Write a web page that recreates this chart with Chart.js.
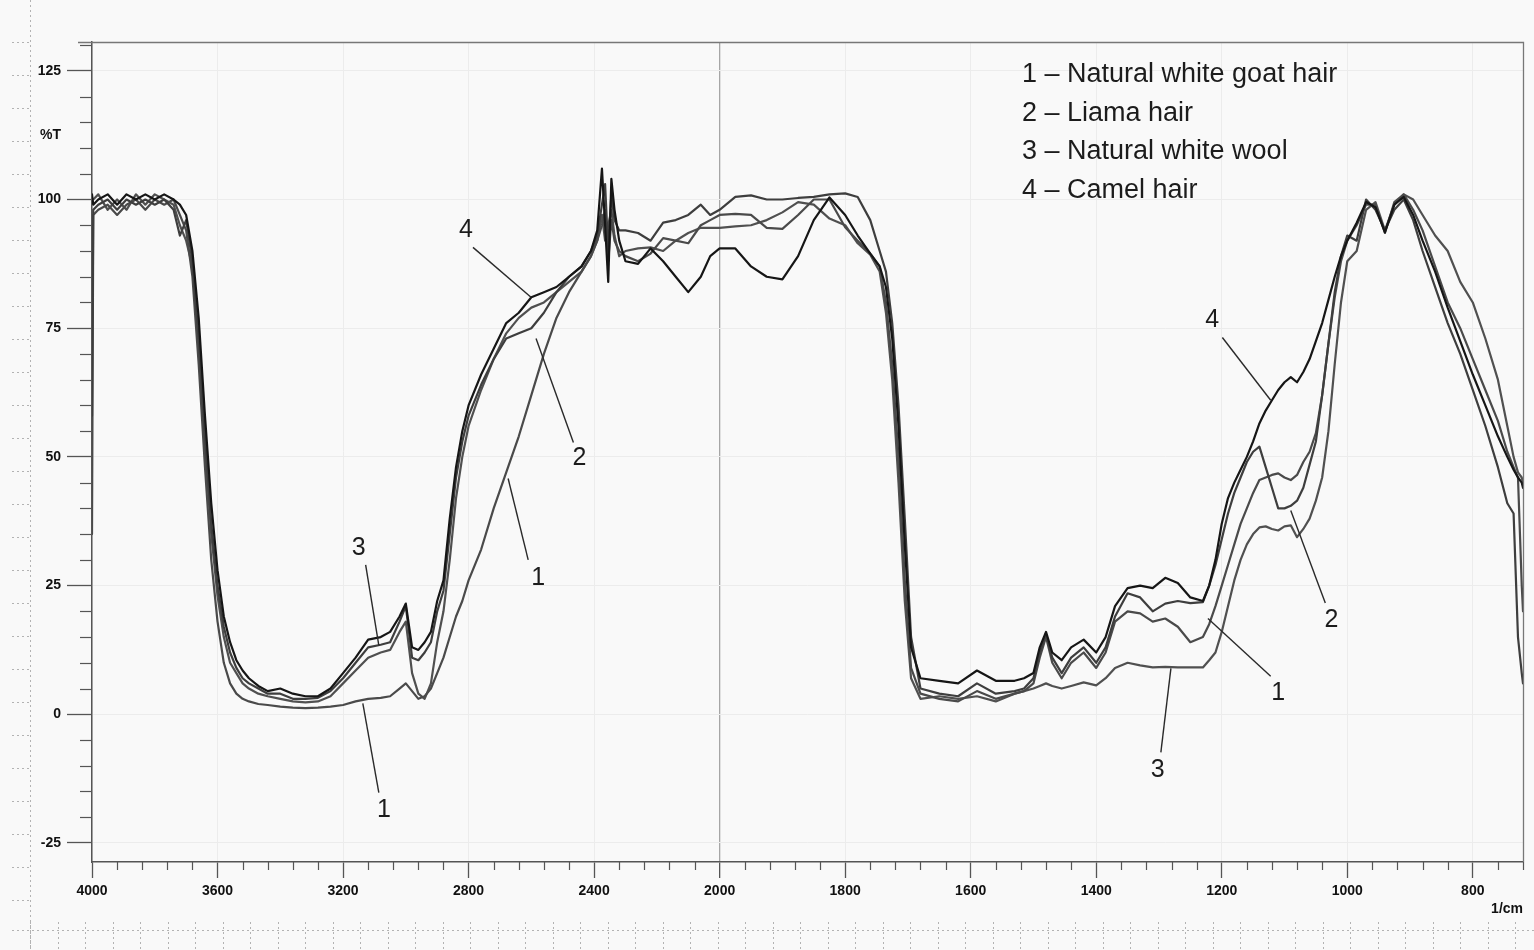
<!DOCTYPE html>
<html>
<head>
<meta charset="utf-8">
<script src="https://cdn.jsdelivr.net/npm/chart.js@4.4.1/dist/chart.umd.min.js"></script>
<style>
html,body{margin:0;padding:0;background:#f9f9f9;}
#wrap{width:1534px;height:950px;position:relative;}
</style>
</head>
<body>
<div id="wrap"><canvas id="c"></canvas></div>
<script>
// ---------------- DATA ----------------
const wavenumbers = [
  4000,3996,3980,3950,3920,3890,3860,3830,3800,3770,
  3740,3720,3700,3680,3660,3640,3620,3600,3580,3560,
  3540,3520,3500,3470,3440,3400,3360,3320,3280,3240,
  3200,3160,3120,3080,3050,3020,3000,2980,2960,2940,
  2920,2900,2880,2860,2840,2820,2800,2760,2720,2680,
  2640,2600,2560,2520,2480,2440,2410,2390,2375,2365,
  2355,2345,2335,2320,2300,2260,2220,2180,2140,2100,
  2060,2030,2000,
  1975,1950,1925,1900,1875,1850,1825,1800,1780,1760,
  1745,1735,1725,1715,1705,1695,1680,1650,1620,1590,
  1560,1530,1515,1500,1490,1480,1470,1455,1440,1420,
  1400,1385,1370,1350,1330,1310,1290,1270,1250,1230,
  1220,1210,1200,1190,1180,1170,1160,1150,1140,1130,
  1120,1110,1100,1090,1080,1070,1060,1050,1040,1030,
  1020,1010,1000,985,970,955,940,925,910,895,
  880,860,840,820,800,780,760,745,735,728,
  722,720
];

const goatHair = [
  35,97,98,99,97,99,100,98,100,99,
  100,97,94,85,68,48,30,18,10,6,
  4,3,2.5,2,1.8,1.5,1.3,1.2,1.3,1.5,
  1.8,2.5,3,3.2,3.5,5,6,4.5,3,3.5,
  5,8,11,15,19,22,26,32,40,47,
  54,62,70,77,82,86,89,92,95,98,
  88,96,92,90,89,88,89.5,92.5,92,91.5,
  95,96,97,
  97.2,97,94.5,94.3,97,100,100,94.6,92,89.5,
  87,80,68,50,26,9,4,3,2.5,4.5,
  3,4,4.5,6,11,15,10,7,10,12,
  9,12,18,20,19.6,18,18.6,17,14,15,
  17.5,21,25,29,33,37,40,43,45.5,46,
  46.5,46.8,46,45.5,46.5,49,51,54.6,62,72,
  81,88,92,95,99,99,93.5,99.5,101,98,
  94,87,80,75,69,63,57,51,48,46,
  25,20
];

const llamaHair = [
  58,98,99,100,98,100,99,100,99,100,
  98,93,96,88,73,54,37,25,17,12,
  9,7,6,5,4,4,3,3,3.2,4.5,
  7,10,13,13.5,14,18,21,11,10.5,12,
  14,20,24,35,46,53,58,64,69,73,
  74,75,78,82,85,87,90,93,99,103,
  90,101,96,94,94,93.5,92,95.5,96,97,
  99,97,98,
  100.5,100.8,100,100,100.3,100.5,101,101.2,100.5,96,
  90,86,76,60,38,15,5,4,3.5,6,
  4,4.5,5,7,12,15.5,11,8,11,13,
  10,13,19,23.5,22.7,20,21.5,22,21.6,21.8,
  25,29,34,39,43,46,49,51,52,48,
  44,40,40,40.5,41.5,44,48.5,53,62,72,
  82,89,93,92,100,98,94,98,100,96,
  90,83,76,70,63,56,48,41,39,15,
  8,6
];

const whiteWool = [
  100,100,101,98,100,98,101,99,101,100,
  99,95,92,87,71,52,35,23,15,10,
  8,6,5,4,3.5,3,2.5,2.3,2.5,3.5,
  6,8.5,11,12,12.5,16,18,8,4,3,
  6,14,20,30,42,50,56,63,69,74,
  77,79,80,82,84,86,89,92,97,92,
  95,98,93,89,90,90.5,90.7,90,92,93.5,
  94.5,94.5,94.5,
  94.8,95,96,97.5,99.5,99,96.3,95,91.5,89.3,
  86,78,65,45,22,7,3,3.5,3,3.5,
  2.5,4,4.5,5,5.5,6,5.5,5,5.5,6.2,
  5.6,7,9,10,9.5,9.1,9.2,9.1,9.1,9.1,
  10.5,12,16,21,26,30,33,35,36.3,36.5,
  36,35.7,36.5,36.7,34.4,36,38,41.5,46,55,
  68,80,88,90,98,99.5,94,99,101,100,
  97,93,90,84,80,73,65,56,50,47,
  46,45
];

const camelHair = [
  101,99,100,101,99,101,100,101,100,101,
  100,99,97,90,77,58,41,28,19,14,
  10.5,8.5,7,5.5,4.5,5,4,3.5,3.5,5,
  8,11,14.5,15,16,19,21.5,13,12.5,14,
  16,22,26,38,48,55,60,66,71,76,
  78,81,82,83,85,87,90,94,106,95,
  84,104,98,92,88,87.5,90.5,88,85,82,
  85,89,90.5,
  90.5,87,85,84.5,89,96,100.4,97,93,89.5,
  87,83,73,56,33,13,7,6.5,6,8.5,
  6.5,6.5,7,8,13,16,12,10.5,13,14.5,
  12,15,21,24.5,25,24.5,26.5,25.5,22.7,22,
  25,30,37,42,45,47.5,50,53,56.5,59,
  61,63,64.5,65.5,64.5,66.5,69,72.5,76,80.5,
  85,89,92,95.5,99.5,98.5,93.6,99,100.5,97,
  92,86,79,72.5,66,60,54,50,47.5,46,
  45,44
];

const seriesNames = [
  '1 \u2013 Natural white goat hair',
  '2 \u2013 Liama hair',
  '3 \u2013 Natural white wool',
  '4 \u2013 Camel hair'
];

const xTickLabels = [4000,3600,3200,2800,2400,2000,1800,1600,1400,1200,1000,800];
const yTickLabels = [-25,0,25,50,75,100,125];
const yUnitLabel = '%T';
const xUnitLabel = '1/cm';

// curve number tags: label position and pointer line, in (wavenumber, %T)
const tagText  = ['4','2','3','1','1','4','2','1','3'];
const tagAt    = [[2808,94],[2447,49.7],[3150,32.2],[2578,26.4],[3070,-18.6],[1215,76.5],[1025,18.3],[1110,4.1],[1302,-10.9]];
const tagFrom  = [[2786,90.7],[2466,52.8],[3128,29],[2610,30],[3086,-15.2],[1199,73.2],[1035,21.6],[1122,7.4],[1297,-7.4]];
const tagTo    = [[2601,81],[2585,73],[3086,13.4],[2674,45.8],[3137,2.1],[1122,61],[1090,39.6],[1222,18.6],[1281,8.9]];

// ---------------- SCALE TRANSFORM (split abscissa: x2 expansion below 2000) ----------------
function toT(w){ return w >= 2000 ? 4000 - w : 2000 + (2000 - w) * 2; }
function fromT(t){ return t <= 2000 ? 4000 - t : 2000 - (t - 2000) / 2; }

function pts(vals){ return wavenumbers.map((w,i)=>({x: toT(w), y: vals[i]})); }

const FONT = "'Liberation Sans', Arial, sans-serif";

const decor = {
  id: 'decor',
  beforeDraw(chart){
    const ctx = chart.ctx;
    ctx.save();
    ctx.fillStyle = '#f9f9f9';
    ctx.fillRect(0,0,chart.width,chart.height);
    // scanned paper grid remnants
    ctx.strokeStyle = '#b3b3b3';
    ctx.lineWidth = 1;
    ctx.setLineDash([2,3]);
    ctx.beginPath(); ctx.moveTo(30.5,0); ctx.lineTo(30.5,950); ctx.stroke();
    ctx.beginPath(); ctx.moveTo(12,930.5); ctx.lineTo(1534,930.5); ctx.stroke();
    for (let y = 42; y < 930; y += 33) {
      ctx.beginPath(); ctx.moveTo(12,y+0.5); ctx.lineTo(29,y+0.5); ctx.stroke();
    }
    for (let x = 30; x < 1534; x += 27.5) {
      ctx.beginPath(); ctx.moveTo(Math.round(x)+0.5,922); ctx.lineTo(Math.round(x)+0.5,950); ctx.stroke();
    }
    ctx.restore();
  },
  afterDraw(chart){
    const ctx = chart.ctx;
    const a = chart.chartArea;
    const xs = chart.scales.x, ys = chart.scales.y;
    ctx.save();
    // frame top & right
    ctx.strokeStyle = '#777';
    ctx.lineWidth = 1.3;
    ctx.beginPath();
    ctx.moveTo(78, a.top+0.5); ctx.lineTo(a.right+0.5, a.top+0.5); ctx.lineTo(a.right+0.5, a.bottom);
    ctx.stroke();
    // minor ticks
    ctx.strokeStyle = '#555';
    ctx.lineWidth = 1.2;
    for (let v = -25; v <= 130; v += 5) {
      if (v % 25 === 0) continue;
      const y = Math.round(ys.getPixelForValue(v)) + 0.5;
      ctx.beginPath(); ctx.moveTo(a.left-12, y); ctx.lineTo(a.left, y); ctx.stroke();
    }
    for (let t = 0; t <= xs.max + 1; t += 80) {
      if (t % 400 === 0) continue;
      const x = Math.round(xs.getPixelForValue(t)) + 0.5;
      ctx.beginPath(); ctx.moveTo(x, a.bottom); ctx.lineTo(x, a.bottom+8); ctx.stroke();
    }
    // unit label on x axis
    ctx.fillStyle = '#111';
    ctx.font = 'bold 14px ' + FONT;
    ctx.textAlign = 'right';
    ctx.textBaseline = 'middle';
    ctx.fillText(xUnitLabel, a.right, 909);
    // curve tags
    ctx.strokeStyle = '#2a2a2a';
    ctx.lineWidth = 1.4;
    ctx.fillStyle = '#1c1c1c';
    ctx.font = '25px ' + FONT;
    ctx.textAlign = 'center';
    ctx.textBaseline = 'middle';
    for (let i = 0; i < tagText.length; i++) {
      const fx = xs.getPixelForValue(toT(tagFrom[i][0])), fy = ys.getPixelForValue(tagFrom[i][1]);
      const tx = xs.getPixelForValue(toT(tagTo[i][0])), ty = ys.getPixelForValue(tagTo[i][1]);
      ctx.beginPath(); ctx.moveTo(fx, fy); ctx.lineTo(tx, ty); ctx.stroke();
      ctx.fillText(tagText[i], xs.getPixelForValue(toT(tagAt[i][0])), ys.getPixelForValue(tagAt[i][1]));
    }
    // legend text block
    ctx.font = '27px ' + FONT;
    ctx.textAlign = 'left';
    ctx.textBaseline = 'alphabetic';
    ctx.fillStyle = '#1c1c1c';
    const base = [82, 120.5, 159, 197.5];
    seriesNames.forEach((s,i)=> ctx.fillText(s, 1022, base[i]));
    ctx.restore();
  }
};

const lineCols = ['#4a4a4a', '#3e3e3e', '#505050', '#161616'];

new Chart(document.getElementById('c'), {
  type: 'line',
  data: {
    datasets: [
      { label: seriesNames[0], data: pts(goatHair),  borderColor: lineCols[0], order: 3 },
      { label: seriesNames[1], data: pts(llamaHair), borderColor: lineCols[1], order: 2 },
      { label: seriesNames[2], data: pts(whiteWool), borderColor: lineCols[2], order: 4 },
      { label: seriesNames[3], data: pts(camelHair), borderColor: lineCols[3], order: 1 }
    ]
  },
  options: {
    responsive: true,
    maintainAspectRatio: false,
    animation: false,
    parsing: true,
    layout: { padding: { top: 42, right: 11, left: 0, bottom: 0 } },
    elements: {
      line: { borderWidth: 2.2, tension: 0, fill: false, borderJoinStyle: 'round', borderCapStyle: 'round' },
      point: { radius: 0, hoverRadius: 0 }
    },
    plugins: { legend: { display: false }, tooltip: { enabled: false } },
    scales: {
      x: {
        type: 'linear',
        min: 0,
        max: toT(720),
        afterBuildTicks: s => { s.ticks = xTickLabels.map(w => ({ value: toT(w) })); },
        afterFit: s => { s.height = 88; },
        ticks: {
          autoSkip: false, maxRotation: 0, padding: 5,
          color: '#111', font: { family: FONT, size: 14, weight: 'bold' },
          callback: v => String(Math.round(fromT(v)))
        },
        grid: {
          color: c => (c.tick && Math.abs(c.tick.value - 2000) < 1) ? '#a6a6a6' : '#ececec',
          lineWidth: c => (c.tick && Math.abs(c.tick.value - 2000) < 1) ? 1.3 : 1,
          tickLength: 16, tickColor: '#555', tickWidth: 1.3
        },
        border: { color: '#555', width: 1.5 }
      },
      y: {
        type: 'linear',
        min: -28.7,
        max: 130.6,
        afterBuildTicks: s => { s.ticks = yTickLabels.concat([112.5]).sort((a,b)=>a-b).map(v => ({ value: v })); },
        afterFit: s => { s.width = 92; },
        ticks: {
          autoSkip: false, padding: 6,
          color: '#111', font: { family: FONT, size: 14, weight: 'bold' },
          callback: v => v === 112.5 ? yUnitLabel : String(v)
        },
        grid: {
          color: c => (c.tick && c.tick.value === 112.5) ? 'rgba(0,0,0,0)' : '#ececec',
          tickColor: c => (c.tick && c.tick.value === 112.5) ? 'rgba(0,0,0,0)' : '#555',
          tickLength: 25, tickWidth: 1.3
        },
        border: { color: '#555', width: 1.5 }
      }
    }
  },
  plugins: [decor]
});
</script>
</body>
</html>
